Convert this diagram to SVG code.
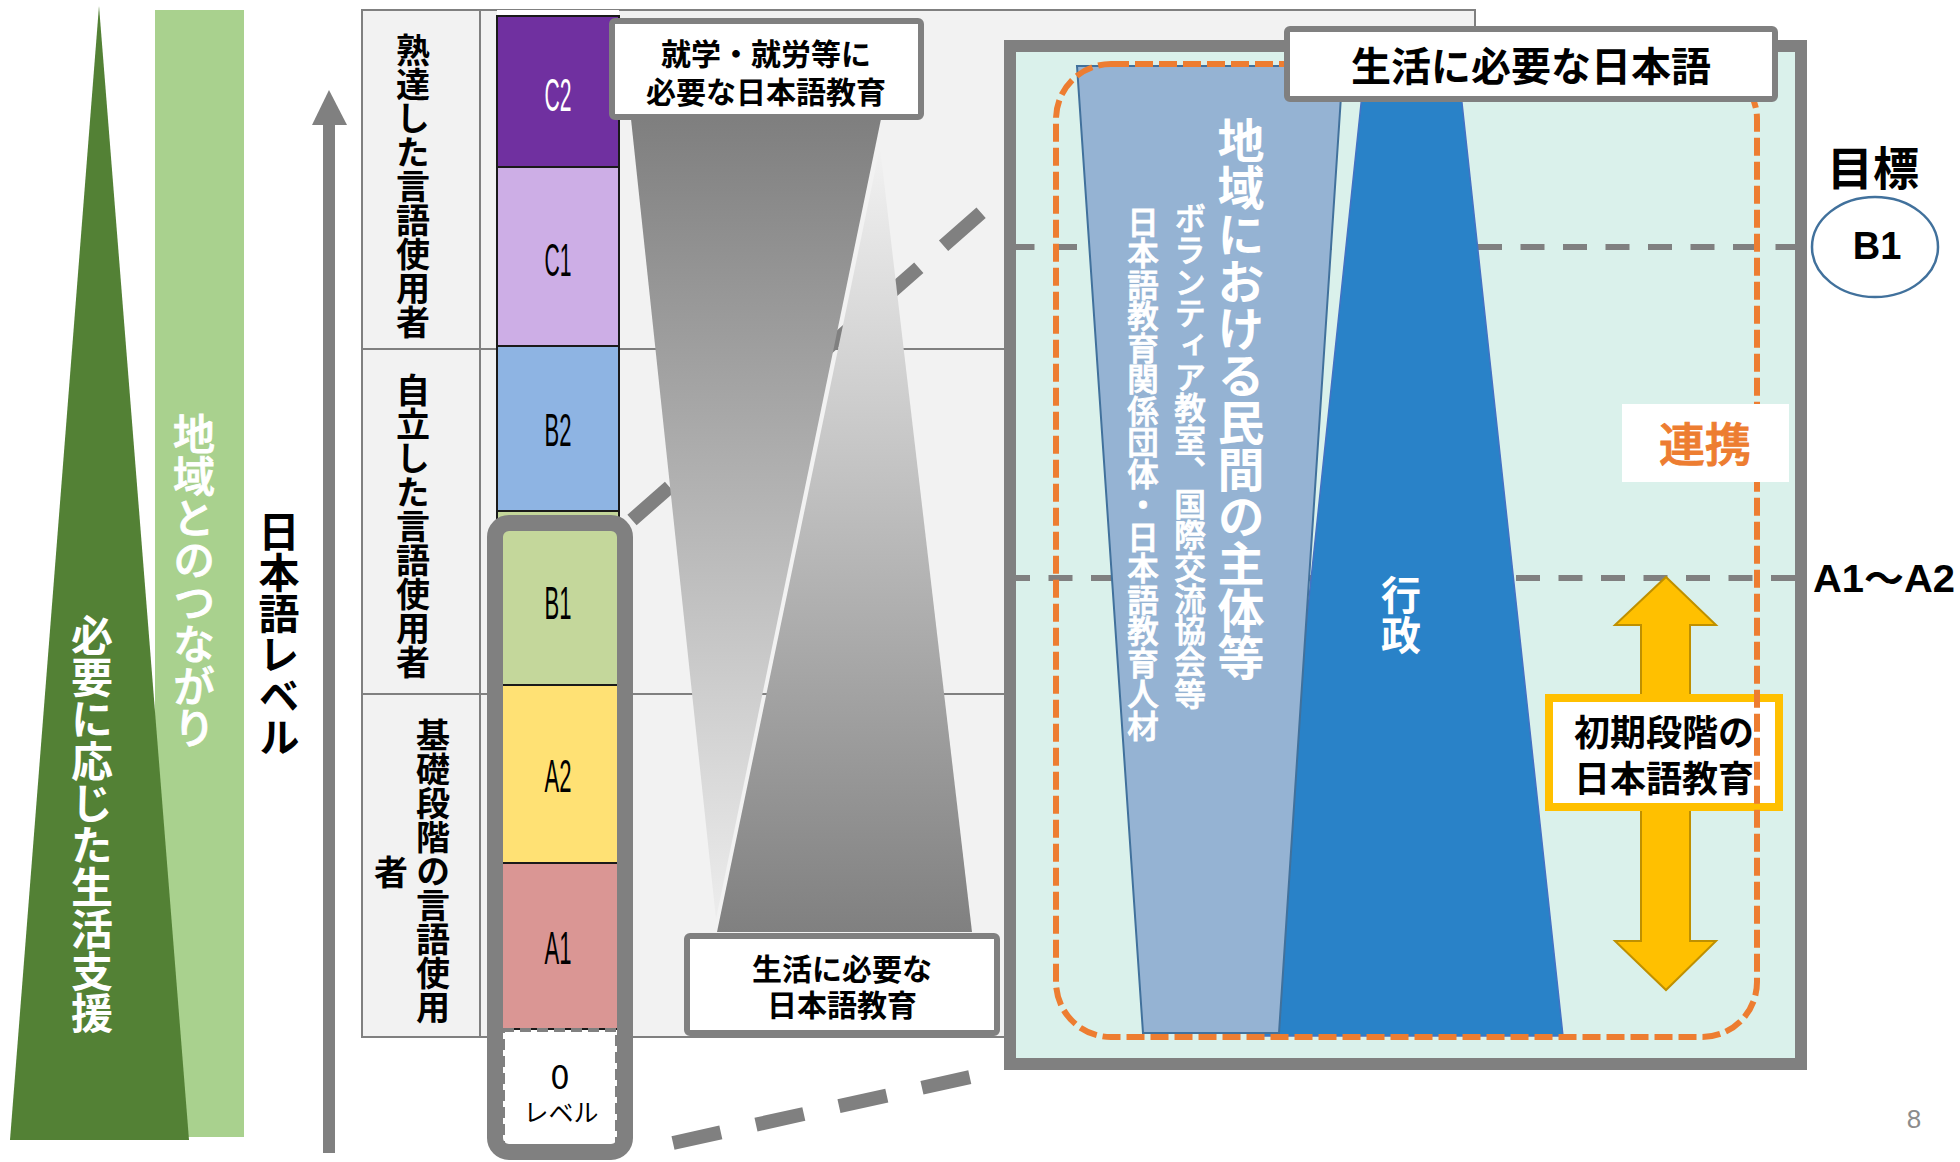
<svg xmlns="http://www.w3.org/2000/svg" width="1960" height="1162" viewBox="0 0 1960 1162">
<defs>
<linearGradient id="gDown" gradientUnits="userSpaceOnUse" x1="0" y1="119" x2="0" y2="919">
<stop offset="0" stop-color="#7F7F7F"/><stop offset="1" stop-color="#EDEDED"/>
</linearGradient>
<linearGradient id="gUp" gradientUnits="userSpaceOnUse" x1="0" y1="147" x2="0" y2="932">
<stop offset="0" stop-color="#F2F2F2"/><stop offset="1" stop-color="#808080"/>
</linearGradient>
<style>
.jp{font-family:"Noto Sans CJK JP","Noto Sans CJK SC",sans-serif}
.b{font-weight:bold}
.m{font-weight:500}
.v{writing-mode:vertical-rl;text-anchor:middle}
.h{text-anchor:middle;dominant-baseline:central}
.lvl{font-family:"Liberation Sans","DejaVu Sans",sans-serif;font-size:46px;text-anchor:middle}
.cell{stroke:#1A1A1A;stroke-width:2}
.conn{stroke:#808080;stroke-width:14;fill:none}
.hdash{stroke:#808080;stroke-width:6;stroke-dasharray:24 18.5}
.box{fill:#FFFFFF;stroke:#808080;stroke-width:6}
</style>
</defs>
<rect width="1960" height="1162" fill="#FFFFFF"/>

<g id="life-support">
<rect x="155" y="10" width="89" height="1127" fill="#A9D18E"/>
<text class="jp m v" x="194" y="581" font-size="42" fill="#FFFFFF" stroke="#FFFFFF" stroke-width="0.9">地域とのつながり</text>
<polygon points="99,6 189,1140 10,1140" fill="#538135"/>
<text class="jp b v" x="92" y="824" font-size="42" fill="#FFFFFF">必要に応じた生活支援</text>
</g>

<g id="level-axis">
<rect x="323" y="120" width="12" height="1033" fill="#808080"/>
<polygon points="312,125 329,90 347,125" fill="#808080"/>
<text class="jp b v" x="279" y="634" font-size="41" fill="#000000">日本語レベル</text>
</g>

<g id="table">
<rect x="362" y="10" width="1113" height="1027" fill="#F2F2F2" stroke="#808080" stroke-width="2"/>
<line x1="480" y1="10" x2="480" y2="1037" stroke="#808080" stroke-width="2"/>
<line x1="362" y1="349" x2="1475" y2="349" stroke="#808080" stroke-width="2"/>
<line x1="362" y1="694" x2="1475" y2="694" stroke="#808080" stroke-width="2"/>
<text class="jp b v" x="413" y="186" font-size="34" fill="#000000">熟達した言語使用者</text>
<text class="jp b v" x="413" y="526" font-size="34" fill="#000000">自立した言語使用者</text>
<text class="jp b v" x="433" y="871" font-size="34" fill="#000000">基礎段階の言語使用</text>
<text class="jp b v" x="391" y="872" font-size="34" fill="#000000">者</text>
</g>

<g id="connectors">
<line class="conn" x1="632" y1="520" x2="990" y2="205" stroke-dasharray="50 33"/>
<line class="conn" x1="673" y1="1143" x2="975" y2="1076" stroke-dasharray="49 36"/>
</g>

<g id="levels">
<rect x="497" y="10" width="122" height="6" fill="#FFFFFF"/>
<rect class="cell" x="497" y="16" width="122" height="151" fill="#7030A0"/>
<rect class="cell" x="497" y="167" width="122" height="179" fill="#CDAEE6"/>
<rect class="cell" x="497" y="346" width="122" height="165" fill="#8EB4E3"/>
<rect class="cell" x="497" y="511" width="122" height="174" fill="#C4D79B"/>
<rect class="cell" x="497" y="685" width="122" height="178" fill="#FFE174"/>
<rect class="cell" x="497" y="863" width="122" height="166" fill="#DA9694"/>
<text class="lvl" x="558" y="111" fill="#FFFFFF" textLength="27" lengthAdjust="spacingAndGlyphs">C2</text>
<text class="lvl" x="558" y="276" fill="#000000" textLength="27" lengthAdjust="spacingAndGlyphs">C1</text>
<text class="lvl" x="558" y="446" fill="#000000" textLength="27" lengthAdjust="spacingAndGlyphs">B2</text>
<text class="lvl" x="558" y="619" fill="#000000" textLength="27" lengthAdjust="spacingAndGlyphs">B1</text>
<text class="lvl" x="558" y="792" fill="#000000" textLength="27" lengthAdjust="spacingAndGlyphs">A2</text>
<text class="lvl" x="558" y="964" fill="#000000" textLength="27" lengthAdjust="spacingAndGlyphs">A1</text>
<rect x="503" y="1030" width="114" height="117" fill="#FFFFFF" stroke="#808080" stroke-width="4" stroke-dasharray="11 6"/>
<text class="jp h" x="560" y="1074" font-size="34" fill="#000000">0</text>
<text class="jp h" x="561" y="1111" font-size="25" fill="#000000">レベル</text>
<rect x="495" y="523" width="130" height="629" rx="14" fill="none" stroke="#808080" stroke-width="16"/>
</g>

<g id="funnel">
<polygon points="631,119 881,119 716,919" fill="url(#gDown)"/>
<polygon points="880,147 972,932 717,932" fill="url(#gUp)"/>
</g>

<g id="box-work">
<rect class="box" x="612" y="21" width="309" height="96" rx="3"/>
<text class="jp b h" x="766" y="52" font-size="30" fill="#000000">就学・就労等に</text>
<text class="jp b h" x="766" y="90" font-size="30" fill="#000000">必要な日本語教育</text>
</g>

<g id="box-life">
<rect class="box" x="687" y="936" width="310" height="97" rx="3"/>
<text class="jp b h" x="842" y="967" font-size="30" fill="#000000">生活に必要な</text>
<text class="jp b h" x="842" y="1003" font-size="30" fill="#000000">日本語教育</text>
</g>

<g id="panel">
<rect x="1010" y="46" width="791" height="1018" fill="#DAF1EB"/>
<line class="hdash" x1="1010.5" y1="247" x2="1796" y2="247"/>
<line class="hdash" x1="1006" y1="578" x2="1796" y2="578"/>
<rect x="1010" y="46" width="791" height="1018" fill="none" stroke="#808080" stroke-width="12"/>
</g>

<g id="government">
<polygon points="1365,66 1458,66 1563,1036 1263,1036" fill="#2982C8" stroke="#4472C4" stroke-width="1.5"/>
<text class="jp b v" x="1401" y="615" font-size="40" fill="#FFFFFF">行政</text>
</g>

<g id="private-sector">
<polygon points="1077,66 1343,66 1279,1033 1143,1033" fill="#95B3D3" stroke="#41719C" stroke-width="2"/>
<text class="jp b v" x="1241" y="399" font-size="47" fill="#FFFFFF">地域における民間の主体等</text>
<text class="jp m v" x="1190" y="456" font-size="31.7" fill="#FFFFFF" stroke="#FFFFFF" stroke-width="0.8">ボランティア教室、国際交流協会等</text>
<text class="jp m v" x="1143" y="474" font-size="31.5" fill="#FFFFFF" stroke="#FFFFFF" stroke-width="0.8">日本語教育関係団体・日本語教育人材</text>
</g>

<g id="initial-education">
<polygon points="1666,577 1716,625 1690,625 1690,941 1716,941 1666,990 1615,941 1641,941 1641,625 1615,625" fill="#FFC000" stroke="#BF9000" stroke-width="2"/>
<rect x="1549" y="698" width="230" height="109" fill="#FFFFFF" stroke="#FFC000" stroke-width="8"/>
<text class="jp b h" x="1664" y="730" font-size="36" fill="#000000">初期段階の</text>
<text class="jp b h" x="1664" y="776" font-size="36" fill="#000000">日本語教育</text>
</g>

<g id="cooperation">
<rect x="1056" y="64" width="701" height="973" rx="55" fill="none" stroke="#ED7D31" stroke-width="6" stroke-dasharray="18 6"/>
<rect x="1622" y="404" width="167" height="78" fill="#FFFFFF"/>
<text class="jp m h" x="1705" y="441" font-size="46" fill="#ED7D31" stroke="#ED7D31" stroke-width="1">連携</text>
</g>

<g id="title">
<rect class="box" x="1287" y="29" width="488" height="70" rx="3"/>
<text class="jp b h" x="1531" y="64" font-size="40" fill="#000000">生活に必要な日本語</text>
</g>

<g id="goal">
<text class="jp b h" x="1873" y="165" font-size="46" fill="#000000">目標</text>
<ellipse cx="1875" cy="247" rx="63" ry="50" fill="#FFFFFF" stroke="#41719C" stroke-width="2.5"/>
<text x="1877" y="259" font-family="Liberation Sans, sans-serif" font-weight="bold" font-size="38" text-anchor="middle" fill="#000000">B1</text>
<text x="1813" y="592" font-family="'Liberation Sans','Noto Sans CJK JP',sans-serif" font-weight="bold" font-size="38" textLength="142" lengthAdjust="spacingAndGlyphs" fill="#000000">A1～A2</text>
</g>

<text x="1914" y="1128" font-family="Liberation Sans, sans-serif" font-size="26" text-anchor="middle" fill="#8C8C8C">8</text>
</svg>
